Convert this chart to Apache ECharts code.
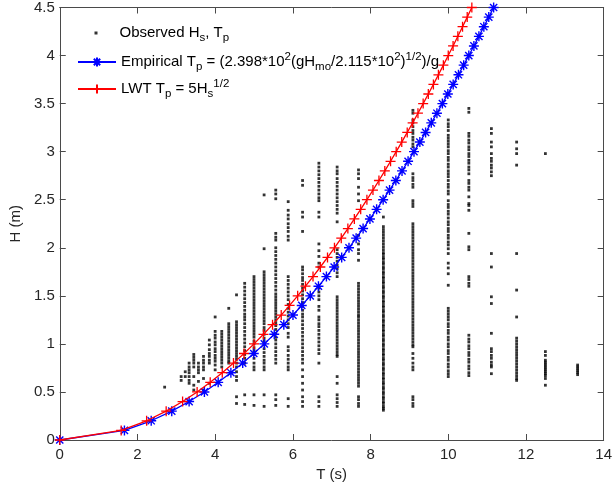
<!DOCTYPE html>
<html><head><meta charset="utf-8">
<script src="https://cdn.jsdelivr.net/npm/echarts@6/dist/echarts.min.js"></script>
<style>html,body{margin:0;padding:0;background:#fff}#c{width:615px;height:490px}</style>
</head><body><div id="c"></div>
<script>
// ---- data ----
const curveH = [0,0.1,0.2,0.3,0.4,0.5,0.6,0.7,0.8,0.9,1.0,1.1,1.2,1.3,1.4,1.5,1.6,1.7,1.8,1.9,2.0,2.1,2.2,2.3,2.4,2.5,2.6,2.7,2.8,2.9,3.0,3.1,3.2,3.3,3.4,3.5,3.6,3.7,3.8,3.9,4.0,4.1,4.2,4.3,4.4,4.5];
const empiricalT = [0,1.665,2.354,2.883,3.330,3.723,4.078,4.405,4.709,4.994,5.265,5.521,5.767,6.003,6.229,6.448,6.659,6.864,7.063,7.257,7.445,7.629,7.808,7.984,8.156,8.324,8.489,8.651,8.810,8.966,9.118,9.269,9.417,9.563,9.708,9.849,9.989,10.127,10.263,10.397,10.529,10.660,10.789,10.916,11.043,11.168];
const lwtT = [0,1.581,2.236,2.739,3.162,3.536,3.873,4.183,4.472,4.743,5.0,5.244,5.477,5.701,5.916,6.124,6.325,6.519,6.708,6.892,7.071,7.246,7.416,7.583,7.746,7.906,8.062,8.216,8.367,8.515,8.660,8.803,8.944,9.083,9.220,9.354,9.487,9.618,9.747,9.874,10.0,10.124,10.247,10.368,10.488,10.607];

const obsT = [2.70,3.125,3.23,3.33,3.45,3.57,3.70,3.85,4.0,4.17,4.35,4.55,4.76,5.0,5.26,5.56,5.88,6.25,6.67,7.14,7.69,8.33,9.09,10.0,10.53,11.11,11.76,12.5,13.33];
const obsH = [
 [0.55],
 [0.66,0.62],
 [0.71,0.66],
 [0.80,0.76,0.73,0.70,0.66,0.62,0.59],
 [0.89,0.86,0.83,0.80,0.76,0.66,0.57,0.52],
 [0.80,0.76,0.73,0.70,0.61],
 [0.87,0.83,0.80,0.76,0.73,0.64,0.52],
 [1.04,0.99,0.94,0.90,0.87,0.83,0.80,0.59],
 [1.28,1.13,1.09,1.06,1.02,0.99,0.95,0.92,0.88,0.85,0.82,0.78,0.73],
 [1.13,1.10,1.07,1.04,1.01,0.98,0.95,0.92,0.89,0.86,0.83,0.80,0.76],
 [1.37,1.21,1.18,1.15,1.12,1.09,1.06,1.03,1.00,0.97,0.94,0.91,0.88,0.85,0.82,0.80],
 [1.51,1.23,1.20,1.17,1.14,1.11,1.08,1.05,1.02,0.99,0.96,0.93,0.90,0.87,0.84,0.80,0.76,0.71,0.66,0.62,0.45,0.38],
 [1.63,1.59,1.55,1.51,1.47,1.43,1.39,1.35,1.31,1.28,1.25,1.21,1.17,1.13,1.09,1.05,1.01,0.97,0.93,0.89,0.85,0.80,0.47,0.37],
 [1.70,1.67,1.64,1.61,1.58,1.55,1.52,1.49,1.46,1.43,1.40,1.37,1.34,1.31,1.28,1.25,1.22,1.19,1.16,1.13,1.10,1.07,1.03,1.00,0.96,0.93,0.89,0.85,0.80,0.76,0.73,0.47,0.36],
 [2.55,1.99,1.75,1.72,1.69,1.66,1.63,1.60,1.57,1.54,1.51,1.48,1.45,1.42,1.39,1.36,1.33,1.30,1.27,1.24,1.21,1.17,1.14,1.10,1.06,1.03,0.99,0.95,0.91,0.87,0.83,0.80,0.76,0.73,0.47,0.35],
 [2.60,2.56,2.51,2.15,2.11,2.08,2.00,1.96,1.92,1.88,1.84,1.80,1.76,1.72,1.68,1.64,1.60,1.56,1.52,1.49,1.46,1.43,1.40,1.37,1.34,1.31,1.28,1.25,1.22,1.19,1.15,1.11,1.07,1.04,1.00,0.96,0.92,0.88,0.84,0.80,0.47,0.42,0.36],
 [2.48,2.39,2.34,2.30,2.25,2.21,2.17,2.12,2.08,1.70,1.66,1.62,1.58,1.54,1.50,1.46,1.41,1.37,1.33,1.29,1.25,1.21,1.17,1.11,1.07,0.97,0.93,0.88,0.84,0.80,0.76,0.73,0.43,0.35],
 [2.70,2.65,2.37,2.32,2.17,1.80,1.77,1.73,1.69,1.66,1.62,1.58,1.55,1.51,1.47,1.43,1.39,1.35,1.31,1.28,1.24,1.20,1.16,1.12,1.08,1.04,1.00,0.96,0.92,0.88,0.84,0.80,0.73,0.66,0.59,0.52,0.45,0.40,0.35],
 [2.88,2.84,2.80,2.76,2.72,2.68,2.64,2.60,2.56,2.52,2.49,2.37,2.32,2.04,1.97,1.91,1.84,1.80,1.58,1.54,1.50,1.46,1.39,1.35,1.28,1.25,1.21,1.18,1.14,1.10,1.06,1.02,0.98,0.94,0.90,0.80,0.45,0.40,0.35],
 [2.84,2.80,2.77,2.72,2.68,2.64,2.60,2.56,2.52,2.48,2.44,2.40,2.36,2.27,1.98,1.94,1.90,1.86,1.82,1.78,1.74,1.70,1.49,1.46,1.43,1.40,1.37,1.34,1.31,1.28,1.25,1.22,1.19,1.16,1.13,1.10,1.07,1.04,1.01,0.98,0.95,0.92,0.89,0.87,0.66,0.59,0.47,0.43,0.39,0.35],
 [2.81,2.77,2.72,2.63,2.56,2.49,2.13,2.04,1.98,1.94,1.87,1.63,1.60,1.57,1.54,1.51,1.48,1.45,1.42,1.39,1.36,1.33,1.30,1.28,1.25,1.22,1.19,1.16,1.13,1.10,1.07,1.04,1.01,0.98,0.95,0.92,0.89,0.86,0.83,0.80,0.77,0.74,0.71,0.68,0.65,0.62,0.59,0.56,0.45,0.42,0.38,0.35],
 [2.32,2.22,2.19,2.16,2.13,2.10,2.07,2.04,2.01,1.98,1.95,1.93,1.90,1.88,1.85,1.83,1.80,1.78,1.75,1.73,1.70,1.68,1.65,1.63,1.60,1.58,1.55,1.53,1.50,1.48,1.45,1.43,1.40,1.38,1.35,1.33,1.30,1.28,1.25,1.23,1.20,1.18,1.15,1.13,1.10,1.08,1.05,1.03,1.00,0.98,0.95,0.93,0.90,0.88,0.85,0.83,0.80,0.78,0.75,0.73,0.70,0.68,0.65,0.63,0.60,0.58,0.55,0.53,0.50,0.48,0.45,0.43,0.40,0.38,0.35,0.33,0.31],
 [3.43,3.40,3.33,3.30,3.26,3.22,3.19,3.15,3.12,3.08,3.05,2.77,2.73,2.70,2.66,2.63,2.49,2.46,2.43,2.25,2.22,2.19,2.16,2.13,2.10,2.07,2.04,2.01,1.98,1.95,1.92,1.89,1.86,1.83,1.80,1.77,1.74,1.71,1.68,1.65,1.62,1.59,1.56,1.53,1.50,1.47,1.44,1.41,1.38,1.35,1.32,1.29,1.26,1.23,1.20,1.17,1.14,1.11,1.08,1.05,1.02,0.99,0.97,0.90,0.85,0.80,0.76,0.73,0.45,0.42,0.38,0.35],
 [3.33,3.29,3.26,3.22,3.17,3.14,3.11,3.08,3.05,3.01,2.98,2.94,2.91,2.87,2.84,2.80,2.77,2.74,2.70,2.66,2.63,2.59,2.56,2.49,2.45,2.42,2.38,2.35,2.31,2.27,2.24,2.20,2.17,2.13,2.10,2.06,2.03,1.99,1.94,1.84,1.79,1.73,1.61,1.37,1.34,1.31,1.28,1.25,1.21,1.18,1.14,1.11,1.07,1.04,1.00,0.97,0.93,0.90,0.86,0.83,0.79,0.76,0.72,0.69,0.66],
 [3.45,3.41,3.19,3.16,3.12,3.09,3.05,3.02,2.98,2.95,2.91,2.88,2.84,2.81,2.77,2.70,2.67,2.63,2.60,2.53,2.46,2.44,2.39,2.15,2.01,1.98,1.70,1.67,1.63,1.60,1.09,1.05,1.02,0.98,0.95,0.91,0.88,0.84,0.81,0.77,0.74,0.70,0.67],
 [3.24,3.19,3.10,3.05,2.98,2.93,2.90,2.86,2.83,2.79,2.75,1.94,1.80,1.49,1.42,1.11,0.95,0.92,0.88,0.85,0.81,0.78,0.76,0.69],
 [3.10,3.03,2.98,2.86,1.94,1.56,1.28,1.06,1.03,1.00,0.97,0.94,0.91,0.88,0.85,0.82,0.79,0.76,0.73,0.70,0.67,0.64,0.62],
 [2.98,0.92,0.88,0.83,0.81,0.79,0.77,0.75,0.73,0.71,0.69,0.67,0.64,0.57],
 [0.78,0.76,0.74,0.72,0.70,0.68]
];

// ---- build ----
const F = '"Liberation Sans", Arial, Helvetica, sans-serif';
const obsData = [];
obsT.forEach((t, i) => obsH[i].forEach(h => obsData.push([t, h])));
const empData = curveH.map((h, i) => [empiricalT[i], h]);
const lwtData = curveH.map((h, i) => [lwtT[i], h]);

const asterisk = 'path://M0,-5L0,5M-5,0L5,0M-3.6,-3.6L3.6,3.6M-3.6,3.6L3.6,-3.6';
const plus = 'path://M0,-5L0,5M-5,0L5,0';

const rich = {
  sub: {fontSize: 11.5, lineHeight: 10, verticalAlign: 'bottom', fontFamily: F, color: '#000'},
  sup: {fontSize: 11.5, lineHeight: 10, verticalAlign: 'top', fontFamily: F, color: '#000'}
};
const labels = {
  obs: 'Observed H{sub|s}, T{sub|p}',
  emp: 'Empirical T{sub|p} = (2.398*10{sup|2}(gH{sub|mo}/2.115*10{sup|2}){sup|1/2})/g',
  lwt: 'LWT T{sub|p} = 5H{sub|s}{sup|1/2}'
};
function mkLegend(item, left, top, iw, ih, padLeft) {
  return {
    data: [item], left: left, top: top, padding: 0, itemWidth: iw, itemHeight: ih,
    selectedMode: false, orient: 'vertical',
    formatter: n => labels[n],
    textStyle: {fontSize: 15, lineHeight: 22, fontFamily: F, color: '#000', rich: rich,
                padding: [0, 0, 0, padLeft]}
  };
}
const axisCol = '#4a4a4a';
const lblCol = '#262626';
function xAx(pos, show) {
  return {
    type: 'value', min: 0, max: 14, interval: 2, position: pos,
    axisLine: {show: true, onZero: false, lineStyle: {color: axisCol, width: 1}},
    axisTick: {show: true, inside: true, length: 6, lineStyle: {color: axisCol}},
    axisLabel: {show: show, margin: 7, fontSize: 15, color: lblCol, fontFamily: F},
    splitLine: {show: false},
    name: show ? 'T (s)' : '', nameLocation: 'middle', nameGap: 24,
    nameTextStyle: {fontSize: 15, color: lblCol, fontFamily: F}
  };
}
function yAx(pos, show) {
  return {
    type: 'value', min: 0, max: 4.5, interval: 0.5, position: pos,
    axisLine: {show: true, onZero: false, lineStyle: {color: axisCol, width: 1}},
    axisTick: {show: true, inside: true, length: 6, lineStyle: {color: axisCol}},
    axisLabel: {show: show, margin: 5, fontSize: 15, color: lblCol, fontFamily: F},
    splitLine: {show: false},
    name: show ? 'H (m)' : '', nameLocation: 'middle', nameGap: 21, nameRotate: 90,
    nameTextStyle: {fontSize: 15, color: lblCol, fontFamily: F}
  };
}

const chart = echarts.init(document.getElementById('c'), null, {renderer: 'canvas'});
chart.setOption({
  animation: false,
  backgroundColor: '#fff',
  grid: {left: 58, right: 1, top: 7, bottom: 50, containLabel: false},
  xAxis: [xAx('bottom', true), xAx('top', false)],
  yAxis: [yAx('left', true), yAx('right', false)],
  legend: [
    mkLegend({name: 'obs', icon: 'rect', itemStyle: {color: '#000'}}, 94.5, 22, 3, 3, 17),
    mkLegend('emp', 77, 51, 38, 11, 0),
    mkLegend('lwt', 77, 78, 38, 11, 0)
  ],
  series: [
    {name: 'obs', type: 'scatter', data: obsData, symbol: 'rect', symbolSize: 2.8,
     itemStyle: {color: '#000'}, z: 1},
    {name: 'emp', type: 'line', data: empData, symbol: asterisk, symbolSize: 10, symbolKeepAspect: true,
     showAllSymbol: true, lineStyle: {color: '#0000ff', width: 1.3},
     itemStyle: {color: '#0000ff', borderColor: '#0000ff', borderWidth: 1.4}, z: 2},
    {name: 'lwt', type: 'line', data: lwtData, symbol: plus, symbolSize: 10, symbolKeepAspect: true,
     showAllSymbol: true, lineStyle: {color: '#ff0000', width: 1.3},
     itemStyle: {color: '#ff0000', borderColor: '#ff0000', borderWidth: 1.3}, z: 3}
  ]
});
</script></body></html>
